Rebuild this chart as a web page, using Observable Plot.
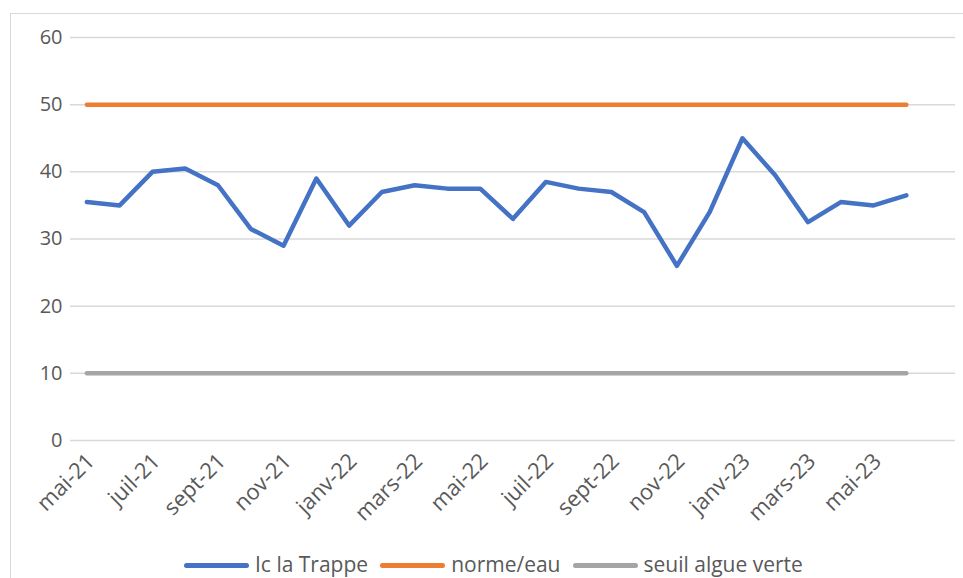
<!DOCTYPE html>
<html><head><meta charset="utf-8">
<script src="https://cdn.jsdelivr.net/npm/d3@7"></script>
<script src="https://cdn.jsdelivr.net/npm/@observablehq/plot@0.6"></script>
<style>
body{margin:0;width:963px;height:578px;overflow:hidden;background:#fff;font-family:"Open Sans",Lato,sans-serif;position:relative}
#frame{position:absolute;left:10px;top:13px;width:1000px;height:1000px;border:1.5px solid #d9d9d9;box-sizing:border-box}
#chart{position:absolute;left:0;top:0}
#legend{position:absolute;top:546px;left:184px;white-space:nowrap;font-size:21px;color:#595959;line-height:24px;height:24px}
#legend span.item{display:inline-flex;align-items:center;margin-right:12px;height:24px}
#legend span.sw{display:inline-block;width:65px;height:5px;border-radius:3px;margin-right:6px;position:relative;top:2px}
</style></head>
<body>
<div id="frame"></div>
<div id="chart"></div>
<div id="legend"></div>
<script>
const months = ["mai-21","juin-21","juil-21","août-21","sept-21","oct-21","nov-21","déc-21",
  "janv-22","févr-22","mars-22","avr-22","mai-22","juin-22","juil-22","août-22","sept-22","oct-22","nov-22","déc-22",
  "janv-23","févr-23","mars-23","avr-23","mai-23","juin-23","juil-23"];
const tickLabels = ["mai-21","juil-21","sept-21","nov-21","janv-22","mars-22","mai-22","juil-22","sept-22","nov-22","janv-23","mars-23","mai-23"];
const icTrappe = [35.5,35,40,40.5,38,31.5,29,39,32,37,38,37.5,37.5,33,38.5,37.5,37,34,26,34,45,39.5,32.5,35.5,35,36.5];
const normeEau = 50;
const seuilAlgue = 10;
const yTicks = [0,10,20,30,40,50,60];
const seriesNames = ["Ic la Trappe","norme/eau","seuil algue verte"];
const seriesColors = ["#4472C4","#ED7D31","#A5A5A5"];

const measured = months.slice(0, icTrappe.length);
const data = measured.map((m,i)=>({month:m, value:icTrappe[i]}));
const normeData = measured.map(m=>({month:m, value:normeEau}));
const seuilData = measured.map(m=>({month:m, value:seuilAlgue}));

const chart = Plot.plot({
  width: 963,
  height: 540,
  marginLeft: 70,
  marginRight: 8,
  marginTop: 37,
  marginBottom: 100,
  style: {fontFamily: "'Open Sans', Lato, sans-serif", fontSize: "20px", color: "#595959", background: "transparent"},
  x: {type: "point", domain: months, padding: 0.5, round: false, label: null, axis: null},
  y: {domain: [0,60], label: null},
  marks: [
    Plot.gridY(yTicks, {stroke: "#d9d9d9", strokeOpacity: 1, strokeWidth: 1.5}),
    Plot.axisY(yTicks, {tickSize: 0, tickPadding: 8, fontSize: 20, fill: "#595959"}),
    Plot.text(tickLabels, {x: d=>d, y: () => 0, text: d=>d, rotate: -45, textAnchor: "end", lineAnchor: "middle", dx: 4, dy: 17, fontSize: 22, fill: "#595959"}),
    Plot.lineY(seuilData, {x: "month", y: "value", stroke: seriesColors[2], strokeWidth: 4.5, strokeLinecap: "round"}),
    Plot.lineY(normeData, {x: "month", y: "value", stroke: seriesColors[1], strokeWidth: 4.5, strokeLinecap: "round"}),
    Plot.lineY(data, {x: "month", y: "value", stroke: seriesColors[0], strokeWidth: 4.5, strokeLinecap: "round", strokeLinejoin: "round"})
  ]
});
document.getElementById("chart").appendChild(chart);

const legend = document.getElementById("legend");
seriesNames.forEach((n,i)=>{
  const it = document.createElement("span"); it.className="item";
  const sw = document.createElement("span"); sw.className="sw"; sw.style.background=seriesColors[i];
  it.appendChild(sw); it.appendChild(document.createTextNode(n));
  legend.appendChild(it);
});
</script>
</body></html>
